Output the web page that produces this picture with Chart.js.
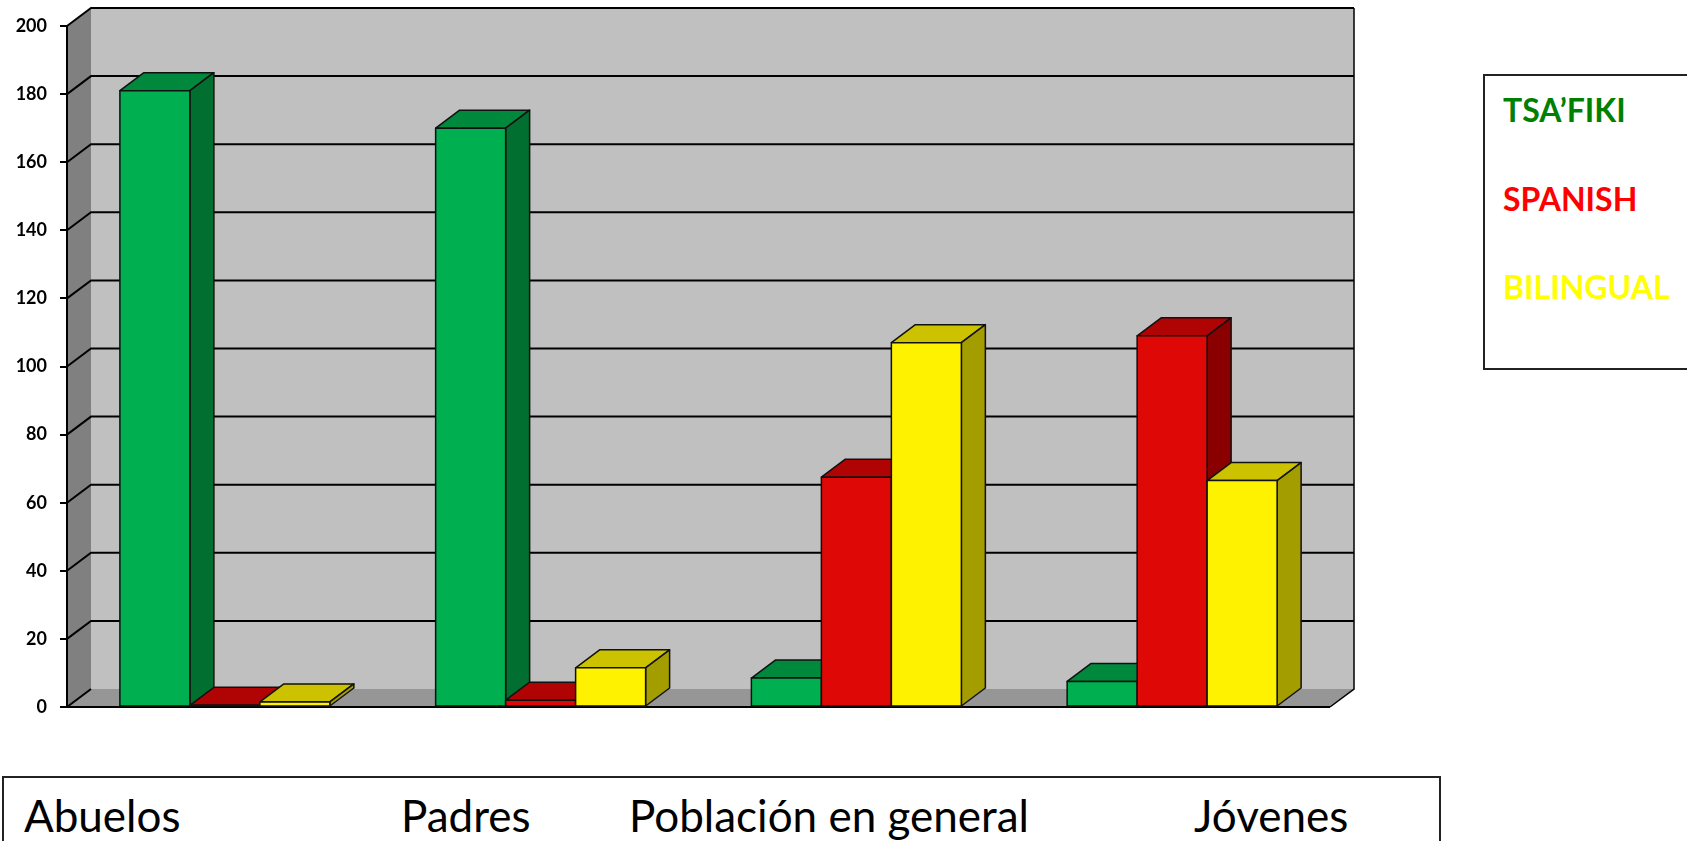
<!DOCTYPE html>
<html>
<head>
<meta charset="utf-8">
<script src="https://cdn.jsdelivr.net/npm/chart.js@4.4.0/dist/chart.umd.min.js"></script>
<style>
  html, body { margin: 0; padding: 0; background: #fff; }
  #wrap { position: relative; width: 1687px; height: 841px; overflow: hidden; }
  #grafico { position: absolute; left: 0; top: 0; }
  .caja { position: absolute; border: 2px solid #222; box-sizing: border-box; background: #fff; }
  .txt { position: absolute; white-space: nowrap; line-height: 1.2; font-family: Lato, sans-serif; }
</style>
</head>
<body>
<div id="wrap">
  <canvas id="grafico" width="1687" height="841"></canvas>
  <div class="caja" style="left:1483px;top:74px;width:260px;height:296px"></div>
  <div class="caja" style="left:2px;top:776px;width:1439px;height:100px"></div>
</div>
<script>
const categories = ['Abuelos', 'Padres', 'Población en general', 'Jóvenes']
const seriesNames = ['TSA’FIKI', 'SPANISH', 'BILINGUAL']
const tsafiki = [181, 170, 8.5, 7.5]
const spanish = [0.5, 2, 67.5, 109]
const bilingual = [1.5, 11.5, 107, 66.5]
const yTicks = [0, 20, 40, 60, 80, 100, 120, 140, 160, 180, 200]

// estilos 3D
const frontColors = ['#00B050', '#DE0806', '#FFF200']
const topColors = ['#00893D', '#B00404', '#CCC200']
const sideColors = ['#006F30', '#8A0000', '#A39D00']
const legendColors = ['#008000', '#FF0000', '#FFFF00']
const DX = 24, DY = 18

const wrap = document.getElementById('wrap')

// leyenda (cuadro a la derecha)
const legendTops = [91, 180, 268]
seriesNames.forEach((name, i) => {
    const el = document.createElement('div')
    el.className = 'txt'
    el.textContent = name
    el.style.cssText = `left:1503px;top:${legendTops[i]}px;font-size:32px;font-weight:bold;color:${legendColors[i]}`
    wrap.appendChild(el)
})

// etiquetas de categorías (cuadro inferior)
const labelLefts = [24, 401, 629, 1194]
categories.forEach((name, i) => {
    const el = document.createElement('div')
    el.className = 'txt'
    el.textContent = name
    el.style.cssText = `left:${labelLefts[i]}px;top:789px;font-size:44px;color:#000`
    wrap.appendChild(el)
})

function poly(ctx, pts, fill, stroke = true) {
    ctx.beginPath()
    ctx.moveTo(pts[0][0], pts[0][1])
    for (let i = 1; i < pts.length; i++) ctx.lineTo(pts[i][0], pts[i][1])
    ctx.closePath()
    ctx.fillStyle = fill
    ctx.fill()
    if (stroke) ctx.stroke()
}

function line(ctx, pts) {
    ctx.beginPath()
    ctx.moveTo(pts[0][0], pts[0][1])
    for (let i = 1; i < pts.length; i++) ctx.lineTo(pts[i][0], pts[i][1])
    ctx.stroke()
}

const walls3d = {
    id: 'walls3d',
    beforeDatasetsDraw(chart) {
        const { ctx, chartArea: a, scales: { y } } = chart
        const L = a.left, R = a.right, T = a.top, B = a.bottom
        ctx.save()
        poly(ctx, [[L + DX, T - DY], [R + DX, T - DY], [R + DX, B - DY], [L + DX, B - DY]], '#C0C0C0', false)
        poly(ctx, [[L, T], [L + DX, T - DY], [L + DX, B - DY], [L, B]], '#808080', false)
        poly(ctx, [[L, B], [L + DX, B - DY], [R + DX, B - DY], [R, B]], '#969696', false)

        ctx.strokeStyle = '#000'
        ctx.lineWidth = 2
        yTicks.forEach(v => {
            const py = y.getPixelForValue(v)
            if (v === 0) {
                line(ctx, [[L, py], [L + DX, py - DY]])
                return
            }
            line(ctx, [[L, py], [L + DX, py - DY], [R + DX, py - DY]])
        })
        ctx.lineWidth = 1.5
        line(ctx, [[R + DX, T - DY], [R + DX, B - DY], [R, B]])
        ctx.lineWidth = 2
        line(ctx, [[L, T], [L, B], [R, B]])
        ctx.restore()
    },
    afterDatasetsDraw(chart) {
        const ctx = chart.ctx
        ctx.save()
        ctx.strokeStyle = '#111'
        ctx.lineWidth = 1.5
        ctx.lineJoin = 'round'
        categories.forEach((c, i) => {
            chart.data.datasets.forEach((ds, d) => {
                const el = chart.getDatasetMeta(d).data[i]
                const { x, y, width, base } = el.getProps(['x', 'y', 'width', 'base'], true)
                const l = x - width / 2, r = x + width / 2
                poly(ctx, [[l, y], [l + DX, y - DY], [r + DX, y - DY], [r, y]], topColors[d])
                poly(ctx, [[r, y], [r + DX, y - DY], [r + DX, base - DY], [r, base]], sideColors[d])
                poly(ctx, [[l, y], [r, y], [r, base], [l, base]], frontColors[d])
            })
        })
        ctx.restore()
    }
}

new Chart(document.getElementById('grafico'), {
    type: 'bar',
    data: {
        labels: categories,
        datasets: [tsafiki, spanish, bilingual].map((values, d) => ({
            label: seriesNames[d],
            data: values,
            backgroundColor: frontColors[d],
            borderColor: '#111',
            borderWidth: 1.5,
            borderSkipped: false,
            categoryPercentage: 0.665,
            barPercentage: 1
        }))
    },
    options: {
        responsive: false,
        animation: false,
        layout: { padding: { left: 0, top: 26, right: 357, bottom: 134 } },
        plugins: { legend: { display: false }, tooltip: { enabled: false } },
        scales: {
            x: { display: false },
            y: {
                min: 0,
                max: 200,
                afterBuildTicks: s => { s.ticks = yTicks.map(v => ({ value: v })) },
                afterFit: s => { s.width = 67 },
                ticks: {
                    color: '#000',
                    padding: 13,
                    font: { family: 'Lato', weight: 'bold', size: 18 }
                },
                grid: { drawOnChartArea: false, drawTicks: true, tickLength: 7, color: '#000', lineWidth: 2 },
                border: { display: true, color: '#000', width: 2 }
            }
        }
    },
    plugins: [walls3d]
})
</script>
</body>
</html>
